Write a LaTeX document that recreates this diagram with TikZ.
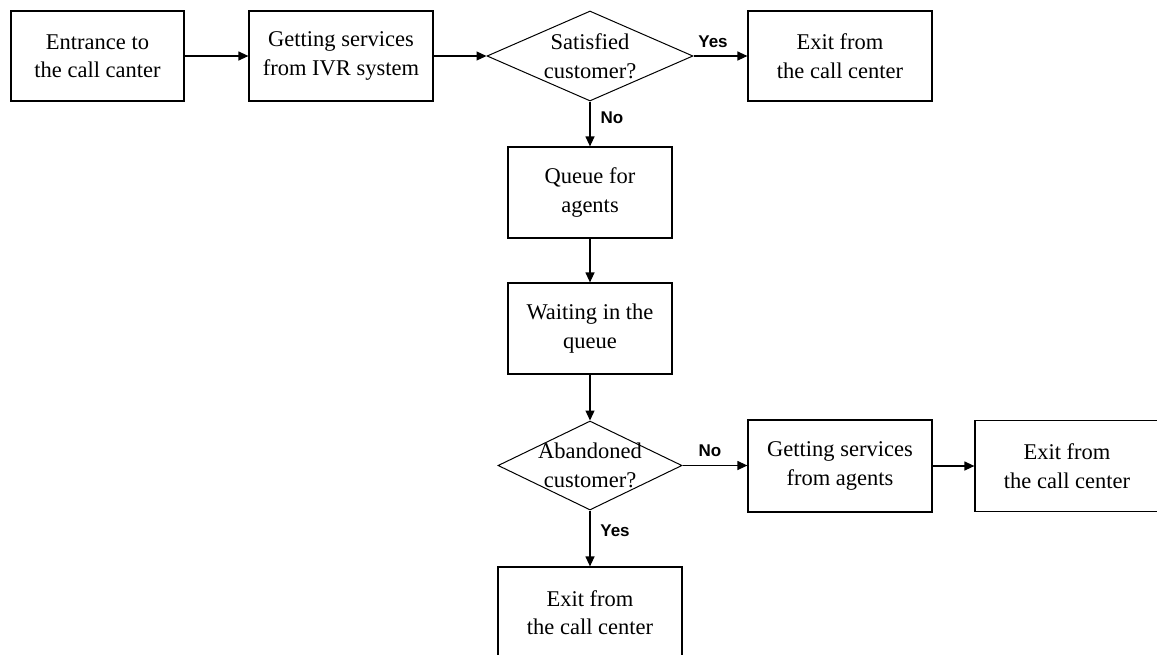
\documentclass[tikz,border=0pt]{standalone}
\usepackage{fontspec}
\setmainfont{Liberation Serif}
\newfontfamily\lblfont{Liberation Sans}
\usetikzlibrary{shapes.geometric,arrows.meta}
\tikzset{
  txt/.style={font=\fontsize{22.5}{28.5}\selectfont, align=center},
  box/.style={draw, line width=1.2pt, rectangle, inner sep=0pt, txt},
  decision/.style={draw, line width=1pt, diamond, inner sep=0pt},
  dtext/.style={txt, inner sep=0pt},
  flow/.style={line width=1.2pt, -{Triangle[length=10pt,width=9pt]}},
  lbl/.style={font=\lblfont\bfseries\fontsize{17}{19}\selectfont, inner sep=0pt}
}
\begin{document}
\begin{tikzpicture}[x=1pt,y=-1pt]
\useasboundingbox (0,0) rectangle (1157,654);
\clip (0,0) rectangle (1157,654);
\node[box, minimum width=173pt, minimum height=90pt] (entr) at (97.5,56) {Entrance to\\the call canter};
\node[box, minimum width=184pt, minimum height=90pt] (ivr) at (341,56) {Getting services\\from IVR system};
\node[decision, minimum width=206pt, minimum height=90pt,
  label={[dtext]center:Satisfied\\customer?}] (sat) at (590,56) {};
\node[box, minimum width=184pt, minimum height=90pt] (exa) at (840,56) {Exit from\\the call center};
\node[box, minimum width=164pt, minimum height=91pt] (queue) at (590,192.5) {Queue for\\agents};
\node[box, minimum width=164pt, minimum height=91pt] (wait) at (590,328.5) {Waiting in the\\queue};
\node[decision, minimum width=184pt, minimum height=89pt,
  label={[dtext]center:Abandoned\\customer?}] (aband) at (590,465.5) {};
\node[box, minimum width=184pt, minimum height=92pt] (agents) at (840,466) {Getting services\\from agents};
\node[box, minimum width=184pt, minimum height=91pt] (exb) at (1067,466) {Exit from\\the call center};
\node[box, minimum width=184pt, minimum height=91pt] (exc) at (590,612.5) {Exit from\\the call center};
\draw[flow] (entr.east) -- (ivr.west);
\draw[flow] (ivr.east) -- (sat.west);
\draw[flow] (sat.east) -- (exa.west);
\draw[flow] (sat.south) -- (queue.north);
\draw[flow] (queue.south) -- (wait.north);
\draw[flow] (wait.south) -- (aband.north);
\draw[flow] (aband.east) -- (agents.west |- aband.east);
\draw[flow] (agents.east) -- (exb.west);
\draw[flow] (aband.south) -- (exc.north);
\node[lbl] (yesa) at (713,42) {Yes};
\node[lbl] (noa) at (612,118) {No};
\node[lbl] (nob) at (710,451) {No};
\node[lbl] (yesb) at (615,531) {Yes};
\end{tikzpicture}
\end{document}
